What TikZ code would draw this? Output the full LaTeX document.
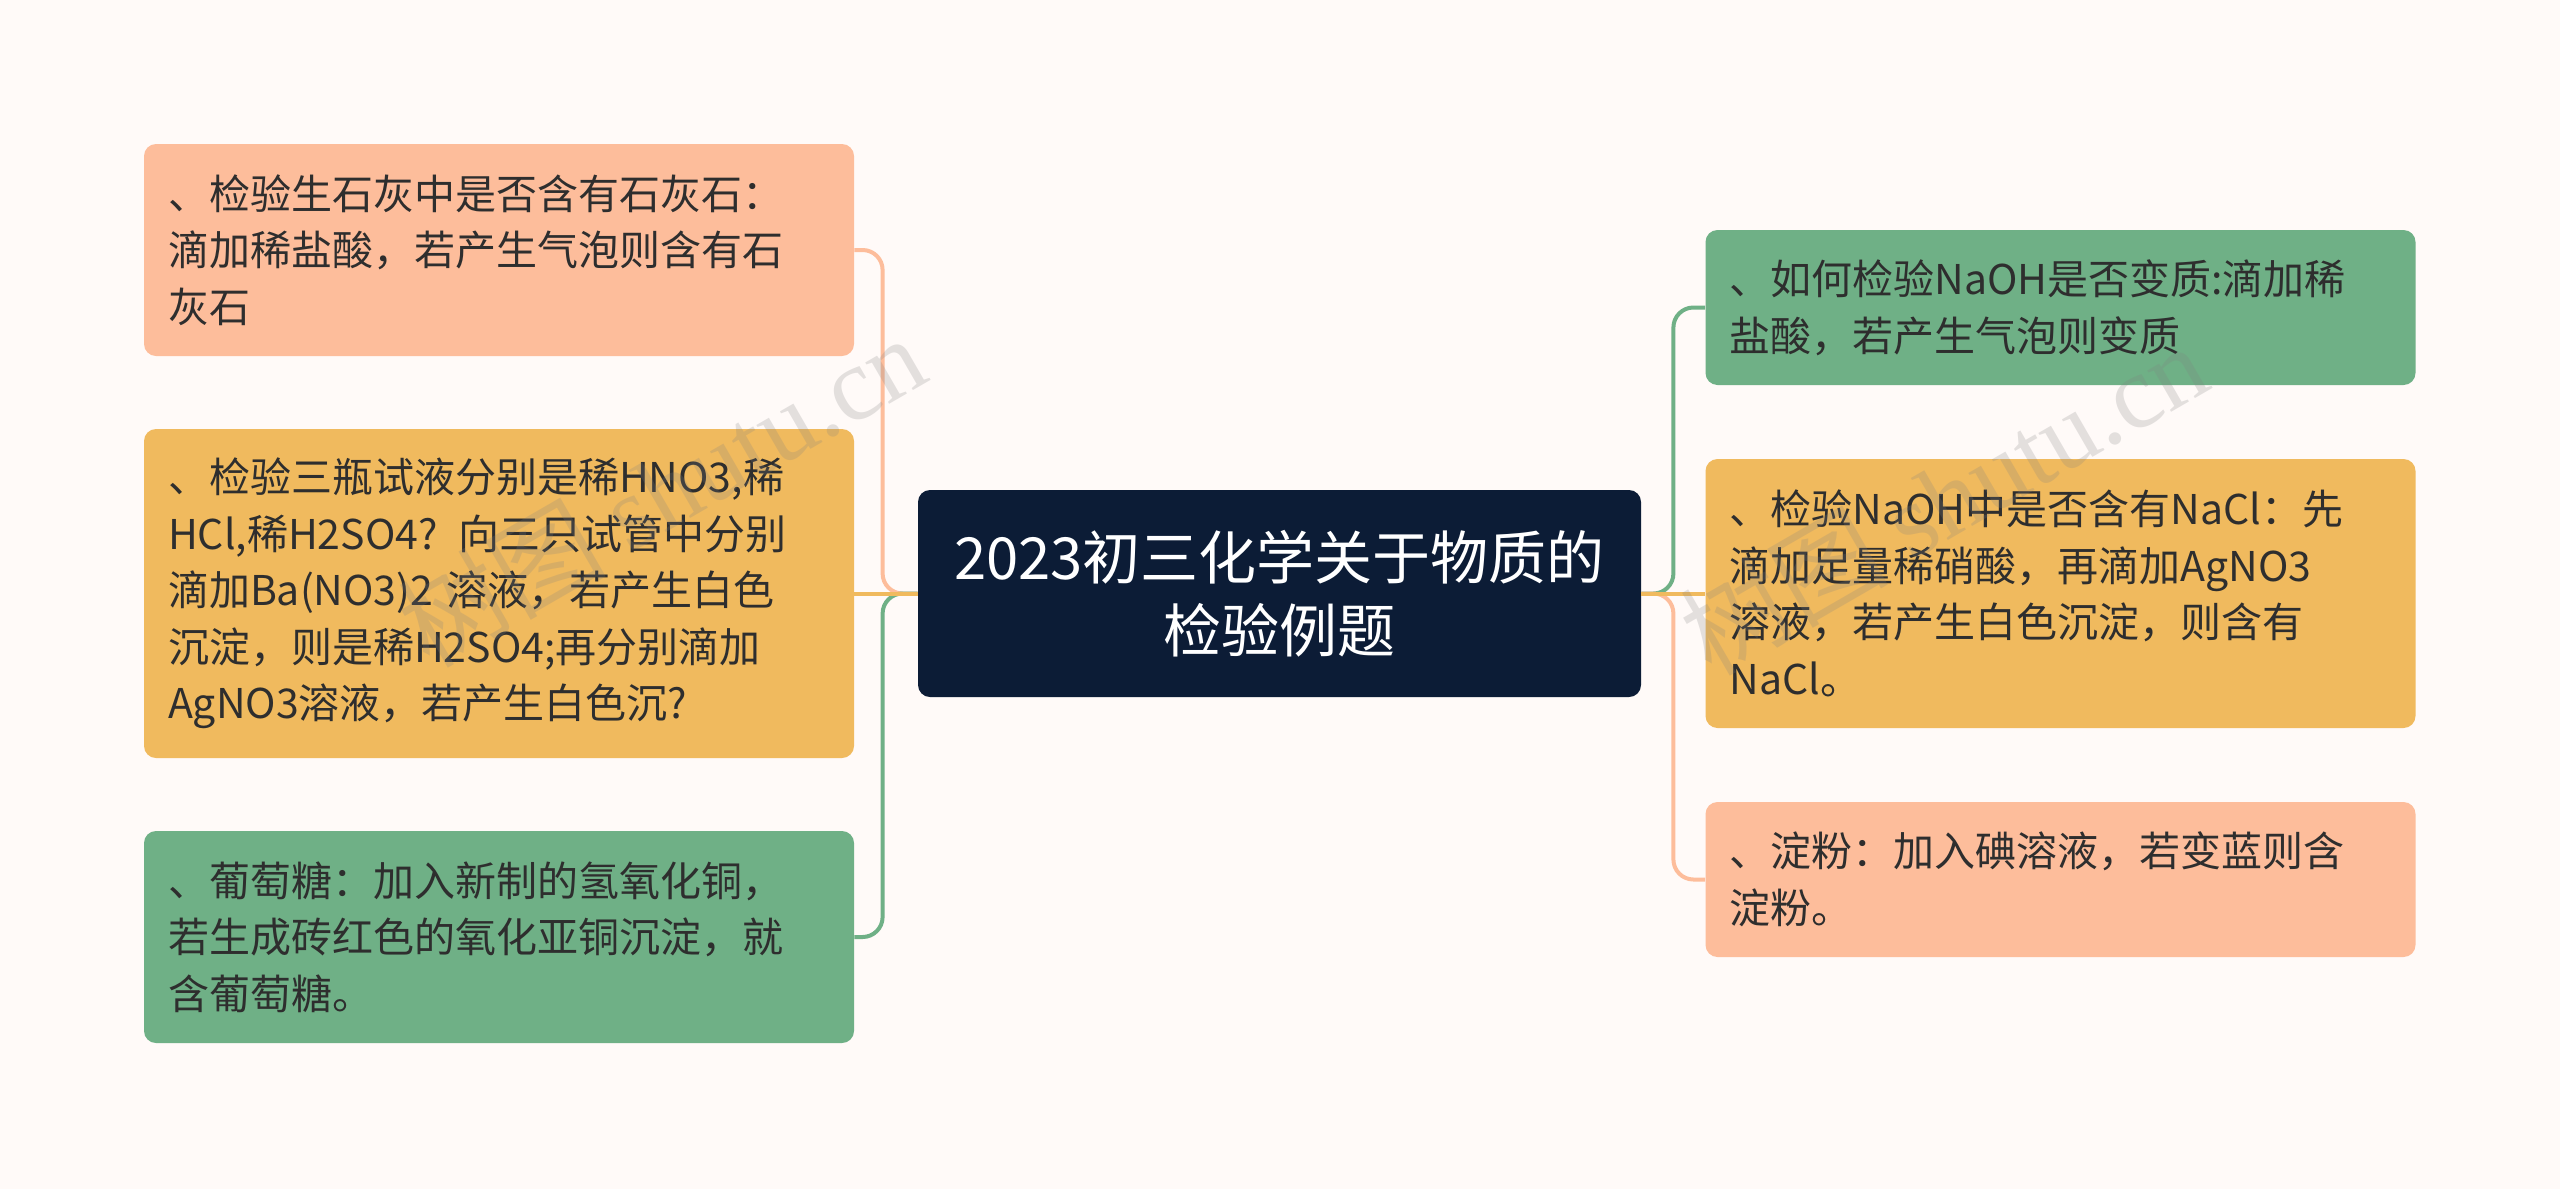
\documentclass[tikz,border=0pt]{standalone}
\usepackage{fontspec}
\setmainfont{Noto Sans CJK SC}
\newfontfamily\wmfont{Liberation Serif}
\usetikzlibrary{calc}
\definecolor{bgc}{HTML}{FFFAF8}
\definecolor{peach}{HTML}{FDBD9B}
\definecolor{gold}{HTML}{F0BA5E}
\definecolor{sage}{HTML}{6FB086}
\definecolor{navy}{HTML}{0C1C36}
\definecolor{txt}{HTML}{2E2E2E}
\tikzset{
  leaf/.style={rectangle, rounded corners=6pt, inner xsep=12pt, inner ysep=0pt,
    text width=331pt, align=left, text=txt,
    font=\fontsize{20.5pt}{28.3pt}\selectfont},
  root/.style={rectangle, rounded corners=6pt, fill=navy, text=white, align=center,
    minimum width=361.5pt, minimum height=103.5pt,
    font=\fontsize{29pt}{36.7pt}\selectfont},
  conn/.style={draw=#1, line width=2pt, rounded corners=10pt},
  wm/.style={text=gray, opacity=0.22, rotate=30, font=\fontsize{52pt}{60pt}\selectfont}
}
\begin{document}
\begin{tikzpicture}[x=0.5pt,y=-0.5pt]
\fill[bgc] (0,0) rectangle (2560,1189);
\useasboundingbox (0,0) rectangle (2560,1189);

\node[root] (c) at (1279.5,593.5) {2023初三化学关于物质的\\检验例题};

\node[leaf, fill=peach, minimum width=355pt, minimum height=106pt] (l1) at (499,250)
 {、检验生石灰中是否含有石灰石：\\滴加稀盐酸，若产生气泡则含有石\\灰石};
\node[leaf, fill=gold, minimum width=355pt, minimum height=164.5pt] (l2) at (499,593.5)
 {、检验三瓶试液分别是稀HNO3,稀\\HCl,稀H2SO4? 向三只试管中分别\\滴加Ba(NO3)2 溶液，若产生白色\\沉淀，则是稀H2SO4;再分别滴加\\AgNO3溶液，若产生白色沉?};
\node[leaf, fill=sage, minimum width=355pt, minimum height=106pt] (l3) at (499,937)
 {、葡萄糖：加入新制的氢氧化铜，\\若生成砖红色的氧化亚铜沉淀，就\\含葡萄糖。};

\node[leaf, fill=sage, minimum width=354.5pt, minimum height=77.5pt] (r1) at (2060.5,307.5)
 {、如何检验NaOH是否变质:滴加稀\\盐酸，若产生气泡则变质};
\node[leaf, fill=gold, minimum width=354.5pt, minimum height=134.5pt] (r2) at (2060.5,593.5)
 {、检验NaOH中是否含有NaCl：先\\滴加足量稀硝酸，再滴加AgNO3\\溶液，若产生白色沉淀，则含有\\NaCl。};
\node[leaf, fill=peach, minimum width=354.5pt, minimum height=77.5pt] (r3) at (2060.5,879.5)
 {、淀粉：加入碘溶液，若变蓝则含\\淀粉。};

\coordinate (lj) at ($(c.west)+(-35,0)$);
\coordinate (rj) at ($(c.east)+(32,0)$);

\draw[conn=peach] (c.west) -- (lj) |- (l1.east);
\draw[conn=sage] (c.west) -- (lj) |- (l3.east);
\draw[conn=gold] (c.west) -- (l2.east);
\draw[conn=sage] (c.east) -- (rj) |- (r1.east -| r1.west);
\draw[conn=peach] (c.east) -- (rj) |- (r3.west);
\draw[conn=gold] (c.east) -- (r2.west);

\node[wm] (w1) at (661,490) {树图 {\wmfont shutu.cn}};
\node[wm] (w2) at (1943,498) {树图 {\wmfont shutu.cn}};
\end{tikzpicture}
\end{document}
